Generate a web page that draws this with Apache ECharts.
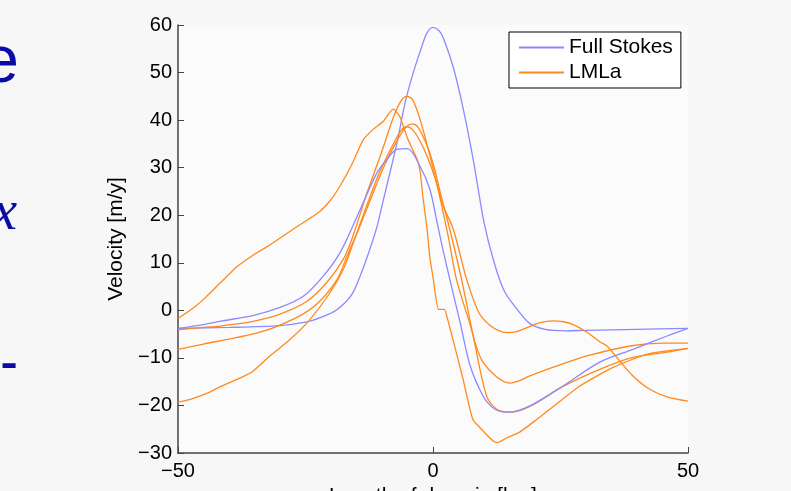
<!DOCTYPE html>
<html>
<head>
<meta charset="utf-8">
<script src="https://cdn.jsdelivr.net/npm/echarts@6/dist/echarts.min.js"></script>
<style>
html,body{margin:0;padding:0;background:#f7f7f7;}
#chart{width:791px;height:491px;}
</style>
</head>
<body>
<div id="chart"></div>
<script>
// ---- data (x in km, y in m/y) ----
const xTicks = [-50, 0, 50];
const yTicks = [-30, -20, -10, 0, 10, 20, 30, 40, 50, 60];

const fullStokesA = [[-50,-3.8],[-40,-3.6],[-30,-3.2],[-25,-2.5],[-22,-1.5],[-19,0],[-16,3.2],[-14,8],[-12.4,12.8],[-11,17.5],[-10,22],[-9,26.5],[-7.1,35],[-5.5,43.5],[-4,49.5],[-2.5,54.5],[-1.2,58.3],[0,59.5],[1.2,58.8],[2,57.3],[4,51],[6,42],[8,31],[10,18.5],[12,10],[14,4],[16.5,0.2],[19,-2.8],[22,-4],[26,-4.3],[30,-4.2],[40,-4],[50,-3.8]];

const fullStokesB = [[-50,-3.8],[-45,-3],[-41.8,-2.3],[-35.3,-1.1],[-30,0.6],[-25.5,2.9],[-21.6,7.1],[-18.2,12.2],[-14.9,19.7],[-11,28.9],[-9,31.8],[-7.2,33.8],[-5,34],[-2.5,30.2],[-0.6,25.4],[0.8,18.5],[2,12.5],[3.3,6.5],[5.3,-2.5],[7.3,-11.7],[9.8,-18],[11.5,-20.3],[13,-21.2],[15.1,-21.4],[19,-20.1],[25.5,-15.9],[32.7,-10.9],[39.2,-8.2],[45.9,-5.4],[50,-3.8]];

const lmlaA = [[-50,-1.7],[-47,0.5],[-45,2.3],[-41.5,6],[-38.4,9.2],[-35,11.8],[-32.5,13.4],[-27.5,17],[-22.2,20.8],[-20,23.3],[-18.2,26.2],[-16,30.5],[-13.7,35.8],[-11.8,38],[-9.8,39.7],[-7.8,42.3],[-6.5,40.7],[-4.9,35.9],[-3.1,31.7],[-2.5,29],[-2,24],[-1.2,17.4],[-0.6,11],[0,7],[1.1,0.2],[2.2,0.2],[2.9,-2],[3.9,-6.1],[5.9,-14.5],[7.8,-22.9],[9.5,-25],[11.8,-27.5],[12.7,-27.8],[14.5,-26.8],[17,-25.6],[20.4,-22.9],[22.9,-20.8],[28.8,-15.9],[35.3,-12],[42,-9.2],[50,-8]];

const lmlaB = [[-50,-4.1],[-45,-3.6],[-41.8,-3.3],[-35.3,-2.3],[-30,-0.8],[-24.7,1.9],[-20.8,5.9],[-17.6,10.7],[-15.9,15],[-13,24.5],[-10,33.5],[-7.8,40.5],[-6.3,44],[-5.1,45],[-4,44.3],[-2.5,40],[-0.6,32.5],[1.4,23.5],[3,15.5],[4.6,6.5],[7,-2],[9.8,-10.9],[15.1,-15.3],[17,-14.8],[19,-13.8],[24.3,-11.7],[30.2,-9.6],[38.6,-7.5],[45.1,-6.9],[50,-6.9]];

const lmlaC = [[-50,-8.2],[-45,-7.1],[-38.4,-5.7],[-33.9,-4.6],[-30,-3.1],[-25.5,-0.8],[-22.2,1.9],[-18.8,6.5],[-16.9,11.3],[-14.6,17],[-12,24],[-9.5,30.5],[-7,35.8],[-5.3,38.5],[-4.1,39.2],[-3,38.6],[-1.5,35.5],[0,31],[1.5,24.5],[3.3,17],[5.6,6.5],[8,-6],[10.5,-18],[12.5,-20.8],[15.1,-21.4],[19,-20.2],[25.5,-16],[32.7,-12.4],[39.2,-9.9],[45.9,-8.8],[50,-8]];

const lmlaD = [[-50,-19.3],[-47.6,-18.7],[-44,-17.3],[-41.8,-16.1],[-38,-14.3],[-35.3,-12.8],[-32,-9.6],[-28,-6.1],[-24.1,-1.9],[-20.2,3.7],[-17.6,8.6],[-15.7,14],[-13,22],[-10.5,29],[-8,34.5],[-6.3,37.8],[-5.1,38.6],[-4,38],[-2.5,35.5],[-1,32],[0.5,27.5],[2,22],[4,17],[6.6,6.5],[9,-0.5],[11.2,-3.2],[13,-4.3],[14.6,-4.7],[16,-4.6],[17.6,-4],[21,-2.6],[23.5,-2.2],[25.5,-2.4],[27.5,-3],[30.2,-4.6],[32.7,-6.6],[34.1,-7.5],[36.5,-10.5],[39.2,-13.8],[42.5,-16.6],[45.9,-18.2],[50,-19.1]];

const blueName = 'Full Stokes';
const orangeName = 'LMLa';
const blueColor = '#8a8aff';
const orangeColor = '#ff8a1c';

function mkSeries(name, data, color, smooth) {
  return {
    name: name, type: 'line', data: data, symbol: 'none', showSymbol: false,
    smooth: smooth,
    lineStyle: {color: color, width: 1.3}, itemStyle: {color: color},
    emphasis: {disabled: true}, animation: false
  };
}

const chart = echarts.init(document.getElementById('chart'), null, {renderer: 'canvas'});
const fmt = v => String(v).replace('-', '\u2212');
const font = '"Liberation Sans", Arial, Helvetica, sans-serif';

chart.setOption({
  backgroundColor: '#f7f7f7',
  animation: false,
  textStyle: {fontFamily: font},
  grid: {left: 178, right: 103, top: 25, bottom: 38, show: true, backgroundColor: '#fbfbfb', borderWidth: 0,
         containLabel: false, outerBoundsMode: 'none'},
  legend: {
    left: 509, top: 32, orient: 'vertical',
    backgroundColor: '#ffffff', borderColor: '#000000', borderWidth: 1,
    padding: [5, 8, 5, 9], itemGap: 4, itemWidth: 45, itemHeight: 14,
    itemStyle: {opacity: 0},
    textStyle: {fontSize: 21, color: '#000', fontFamily: font},
    data: [blueName, orangeName]
  },
  xAxis: {
    type: 'value', min: xTicks[0], max: xTicks[xTicks.length - 1], interval: 50,
    name: 'Length of domain [km]', nameLocation: 'middle', nameGap: 29,
    nameTextStyle: {fontSize: 21, color: '#000', fontFamily: font},
    axisLine: {onZero: false, lineStyle: {color: '#444', width: 1.5}},
    axisTick: {inside: true, length: 6, lineStyle: {color: '#444'}},
    axisLabel: {fontSize: 20, color: '#000', margin: 8, formatter: fmt},
    splitLine: {show: false}
  },
  yAxis: {
    type: 'value', min: yTicks[0], max: yTicks[yTicks.length - 1], interval: 10,
    name: 'Velocity [m/y]', nameLocation: 'middle', nameGap: 42, nameRotate: 90,
    nameTextStyle: {fontSize: 21, color: '#000', fontFamily: font},
    axisLine: {show: true, onZero: false, lineStyle: {color: '#444', width: 1.5}},
    axisTick: {show: true, inside: true, length: 6, lineStyle: {color: '#444'}},
    axisLabel: {fontSize: 20, color: '#000', margin: 6, formatter: fmt},
    splitLine: {show: false}
  },
  graphic: [
    {type: 'text', x: 19, y: 64, style: {text: 'e', fill: '#0b0ba6', font: '66px "Liberation Sans", Arial, sans-serif', textAlign: 'right', textVerticalAlign: 'middle'}},
    {type: 'text', x: 17, y: 214, style: {text: 'x', fill: '#0b0ba6', font: 'italic 56px "Liberation Serif", "DejaVu Serif", serif', textAlign: 'right', textVerticalAlign: 'middle'}},
    {type: 'text', x: 9, y: 365.5, scaleX: 0.55, style: {text: '\u2013', fill: '#0b0ba6', font: 'bold 48px "Liberation Sans", Arial, sans-serif', textAlign: 'center', textVerticalAlign: 'middle'}}
  ],
  series: [
    mkSeries(blueName, fullStokesA, blueColor, 0.3),
    mkSeries(orangeName, lmlaA, orangeColor, 0.2),
    mkSeries(orangeName, lmlaB, orangeColor, 0.3),
    mkSeries(orangeName, lmlaC, orangeColor, 0.3),
    mkSeries(orangeName, lmlaD, orangeColor, 0.3),
    mkSeries(blueName, fullStokesB, blueColor, 0.3)
  ]
});
</script>
</body>
</html>
